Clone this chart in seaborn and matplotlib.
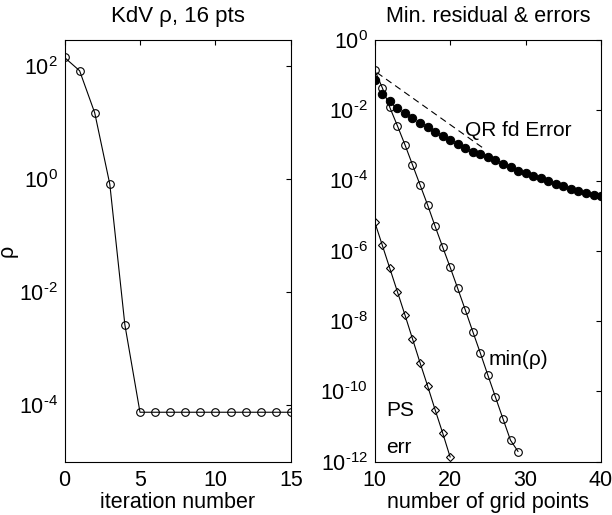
import numpy as np
import pandas as pd
import seaborn as sns
import matplotlib
matplotlib.use("Agg")
import matplotlib.pyplot as plt
from matplotlib.ticker import FixedLocator, FuncFormatter, NullLocator

# ---------------------------------------------------------------
#  data
# ---------------------------------------------------------------
# left: KdV rho vs iteration (16 pts)
iters = list(range(16))
rho = [142, 82.6, 14.9, 0.815, 2.63e-3, 7.5e-5, 7.5e-5, 7.5e-5, 7.5e-5,
       7.5e-5, 7.5e-5, 7.5e-5, 7.5e-5, 7.5e-5, 7.5e-5, 7.5e-5]

# right: min(rho), PS err and QR fd error vs number of grid points
min_rho_n = list(range(10, 30))
min_rho = [1.38e-1, 4.37e-2, 1.20e-2, 3.63e-3, 1.05e-3, 2.82e-4, 7.59e-5,
           2.04e-5, 5.01e-6, 1.29e-6, 3.39e-7, 8.51e-8, 2.09e-8, 5.01e-9,
           1.23e-9, 2.88e-10, 6.92e-11, 1.66e-11, 4.07e-12, 1.95e-12]

ps_n = list(range(10, 21))
ps_err = [6.61e-6, 1.45e-6, 3.16e-7, 6.92e-8, 1.51e-8, 3.16e-9, 6.61e-10,
          1.45e-10, 3.02e-11, 6.61e-12, 1.35e-12]

qr_n = list(range(10, 41))
qr_err = [7.08e-2, 2.88e-2, 1.78e-2, 1.15e-2, 8.32e-3, 6.03e-3, 4.27e-3,
          3.24e-3, 2.45e-3, 1.82e-3, 1.38e-3, 1.10e-3, 8.51e-4, 6.61e-4,
          5.50e-4, 4.57e-4, 3.72e-4, 2.95e-4, 2.40e-4, 1.91e-4, 1.62e-4,
          1.35e-4, 1.15e-4, 9.55e-5, 8.13e-5, 6.92e-5, 5.89e-5, 5.13e-5,
          4.47e-5, 3.89e-5, 3.55e-5]

# dashed guide line
guide_n = [10.3, 24.5]
guide_y = [1.17e-1, 8.0e-4]

left_yticks = [1e-4, 1e-2, 1e0, 1e2]
right_yticks = [1e-12, 1e-10, 1e-8, 1e-6, 1e-4, 1e-2, 1e0]

# ---------------------------------------------------------------
#  style
# ---------------------------------------------------------------
sns.set_style("white")
plt.rcParams['font.family'] = ['Liberation Sans', 'DejaVu Sans']
plt.rcParams['mathtext.fontset'] = 'custom'
plt.rcParams['mathtext.rm'] = 'Liberation Sans'
plt.rcParams['mathtext.it'] = 'Liberation Sans:italic'
plt.rcParams['text.color'] = 'black'
plt.rcParams['axes.labelcolor'] = 'black'
plt.rcParams['xtick.color'] = 'black'
plt.rcParams['ytick.color'] = 'black'
plt.rcParams['axes.linewidth'] = 0.8
plt.rcParams['axes.edgecolor'] = 'black'
plt.rcParams['xtick.direction'] = 'in'
plt.rcParams['ytick.direction'] = 'in'

FS = 15.5


def pow10(v, pos):
    # matlab-style 10^-n with a short hyphen
    n = int(round(np.log10(v)))
    if n < 0:
        return r'$\mathregular{10^{\text{-}%d}}$' % (-n)
    return r'$\mathregular{10^{%d}}$' % n


fig = plt.figure(figsize=(6.12, 5.15), dpi=100)
ax1 = fig.add_axes([0.1054, 0.1035, 0.370, 0.819])
ax2 = fig.add_axes([0.6123, 0.1035, 0.3698, 0.819])

# ---------------------------------------------------------------
#  left panel
# ---------------------------------------------------------------
sns.lineplot(x=iters, y=rho, ax=ax1, color='black', lw=0.8, marker='o',
             markersize=5.5, markerfacecolor='none', markeredgecolor='black',
             markeredgewidth=0.8)
ax1.set_yscale('log')
ax1.set_xlim(0, 15)
ax1.set_ylim(1e-5, 290)
ax1.xaxis.set_major_locator(FixedLocator([0, 5, 10, 15]))
ax1.yaxis.set_major_locator(FixedLocator(left_yticks))
ax1.yaxis.set_minor_locator(NullLocator())
ax1.yaxis.set_major_formatter(FuncFormatter(pow10))
ax1.set_xlabel('iteration number', fontsize=FS, labelpad=1)
ax1.set_ylabel('\u03c1', fontsize=FS)
ax1.yaxis.set_label_coords(-0.205, 0.5)
ax1.set_title('KdV \u03c1, 16 pts', fontsize=16, pad=13)

# ---------------------------------------------------------------
#  right panel
# ---------------------------------------------------------------
sns.lineplot(x=guide_n, y=guide_y, ax=ax2, color='black', lw=0.8,
             linestyle=(0, (6, 4)))
sns.lineplot(x=min_rho_n, y=min_rho, ax=ax2, color='black', lw=0.8, marker='o',
             markersize=5.5, markerfacecolor='none', markeredgecolor='black',
             markeredgewidth=0.8)
sns.lineplot(x=ps_n, y=ps_err, ax=ax2, color='black', lw=0.8, marker='D',
             markersize=4.2, markerfacecolor='none', markeredgecolor='black',
             markeredgewidth=0.8)
sns.lineplot(x=qr_n, y=qr_err, ax=ax2, color='black', lw=0, marker='o',
             markersize=6, markerfacecolor='black', markeredgecolor='black')
ax2.set_yscale('log')
ax2.set_xlim(10, 40)
ax2.set_ylim(1e-12, 1)
ax2.xaxis.set_major_locator(FixedLocator([10, 20, 30, 40]))
ax2.yaxis.set_major_locator(FixedLocator(right_yticks))
ax2.yaxis.set_minor_locator(NullLocator())
ax2.yaxis.set_major_formatter(FuncFormatter(pow10))
ax2.set_xlabel('number of grid points', fontsize=FS, labelpad=1)
ax2.set_title('Min. residual & errors', fontsize=FS, pad=13)

ax2.text(22.0, 10 ** -2.59, 'QR fd Error', fontsize=15, ha='left', va='center')
ax2.text(25.1, 10 ** -9.1, 'min(\u03c1)', fontsize=15, ha='left', va='center')
ax2.text(11.5, 10 ** -10.55, 'PS', fontsize=15, ha='left', va='center')
ax2.text(11.5, 10 ** -11.6, 'err', fontsize=15, ha='left', va='center')

for ax in (ax1, ax2):
    ax.tick_params(which='both', top=True, right=True, length=3.5, width=0.8,
                   labelsize=15.5, pad=6, color='black')
    ax.tick_params(axis='y', pad=5)
    for s in ax.spines.values():
        s.set_visible(True)
        s.set_color('black')

fig.savefig('out.png', dpi=100)
